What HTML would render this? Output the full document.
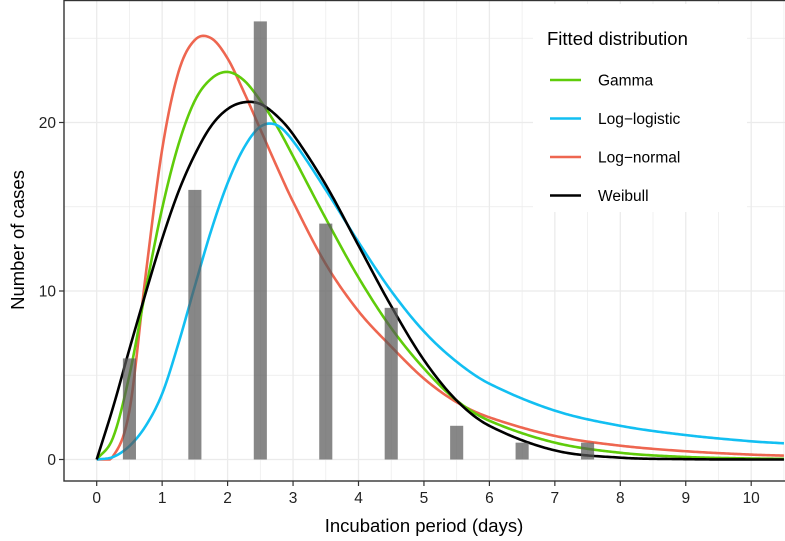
<!DOCTYPE html>
<html><head><meta charset="utf-8">
<style>
html,body{margin:0;padding:0;background:#fff;}
svg{display:block;font-family:"Liberation Sans",Arial,sans-serif;}
</style></head>
<body>
<svg id="chart" width="785" height="541" viewBox="0 0 785 541" xmlns="http://www.w3.org/2000/svg">
  <rect x="0" y="0" width="785" height="541" fill="#fff"/>
  <g id="grid"></g>
  <g id="curves"></g>
  <g id="bars"></g>
  <rect x="64" y="0.5" width="730" height="480.5" fill="none" stroke="#333" stroke-width="1.4"/>
  <g id="axes"></g>
  <text x="424" y="532" font-size="18.5" text-anchor="middle" fill="#000">Incubation period (days)</text>
  <text transform="translate(24,240) rotate(-90)" font-size="18.5" text-anchor="middle" fill="#000">Number of cases</text>
  <g id="legend">
    <rect x="533" y="4" width="214" height="208" fill="#fff"/>
    <text x="547" y="45" font-size="18.5" fill="#000">Fitted distribution</text>
  </g>
</svg>
<script>
const barDays = [0.5, 1.5, 2.5, 3.5, 4.5, 5.5, 6.5, 7.5];
const barCounts = [6, 16, 26, 14, 9, 2, 1, 1];
const curveX = [0, 0.25, 0.5, 0.75, 1, 1.25, 1.5, 1.75, 2, 2.25, 2.5, 2.75, 3, 3.5, 4, 4.5, 5, 5.5, 6, 7, 8, 9, 10, 10.5];
const gammaY = [0, 1.3, 5.0, 10.1, 14.9, 18.7, 21.3, 22.6, 23.0, 22.5, 21.3, 19.8, 18.0, 14.3, 10.8, 7.8, 5.4, 3.5, 2.3, 1.0, 0.4, 0.15, 0.06, 0.04];
const loglogY = [0, 0.15, 0.8, 2.0, 3.9, 6.9, 10.3, 13.6, 16.4, 18.5, 19.75, 19.85, 18.9, 16.0, 12.9, 10.0, 7.6, 5.8, 4.5, 2.9, 2.0, 1.45, 1.08, 0.96];
const lognormY = [0, 0.2, 2.9, 11.0, 18.4, 23.0, 24.9, 25.0, 23.8, 21.8, 19.6, 17.4, 15.3, 11.6, 8.8, 6.7, 4.8, 3.4, 2.5, 1.4, 0.82, 0.49, 0.29, 0.23];
const weibullY = [0, 3.1, 6.55, 9.9, 13.1, 15.9, 18.1, 19.8, 20.8, 21.2, 21.1, 20.4, 19.3, 16.3, 12.7, 9.1, 5.9, 3.5, 2.0, 0.54, 0.11, 0.02, 0, 0];
const seriesNames = ["Gamma", "Log\u2212logistic", "Log\u2212normal", "Weibull"];
const seriesColors = ["#5FCC0A", "#12BFF2", "#EE6650", "#000000"];
const xTicks = [0,1,2,3,4,5,6,7,8,9,10];
const yTicks = [0,10,20];

const NS = "http://www.w3.org/2000/svg";
const X0 = 96.7, XU = 65.45, Y0 = 459.5, YU = 16.85;
const sx = v => X0 + v * XU;
const sy = v => Y0 - v * YU;
function mk(tag, attrs, parent){const e=document.createElementNS(NS,tag);for(const k in attrs)e.setAttribute(k,attrs[k]);parent.appendChild(e);return e;}

const grid = document.getElementById('grid');
for(let v=-0.5; v<=11; v+=0.5){
  const major = Math.abs(v-Math.round(v))<1e-6;
  const l = mk('line',{x1:sx(v),x2:sx(v),y1:0,y2:481,stroke:'#ebebeb','stroke-width':major?1.3:0.7},grid);
  
  
}
for(let v=-5; v<=30; v+=5){
  const major = v%10===0;
  const l = mk('line',{x1:64,x2:785,y1:sy(v),y2:sy(v),stroke:'#ebebeb','stroke-width':major?1.3:0.7},grid);
  
  
}

// cubic Hermite with central-difference slopes (smooth peaks)
function hermite(xs, ys){
  const n = xs.length, m = new Array(n);
  m[0] = (ys[1]-ys[0])/(xs[1]-xs[0]);
  m[n-1] = (ys[n-1]-ys[n-2])/(xs[n-1]-xs[n-2]);
  for(let i=1;i<n-1;i++) m[i] = (ys[i+1]-ys[i-1])/(xs[i+1]-xs[i-1]);
  return function(x){
    let i=0; while(i<n-2 && x>xs[i+1]) i++;
    const h = xs[i+1]-xs[i];
    const t=(x-xs[i])/h, t2=t*t, t3=t2*t;
    return (2*t3-3*t2+1)*ys[i]+(t3-2*t2+t)*h*m[i]+(-2*t3+3*t2)*ys[i+1]+(t3-t2)*h*m[i+1];
  };
}
function pathFor(xs, ys){
  const f = hermite(xs, ys);
  const x1 = xs[xs.length-1];
  let d='';
  for(let k=0;k<=420;k++){
    const x = x1*k/420;
    d += (k?' L':'M')+sx(x).toFixed(2)+','+sy(Math.max(0,f(x))).toFixed(2);
  }
  return d;
}
const curves = document.getElementById('curves');
const allY = [gammaY, loglogY, lognormY, weibullY];
const curveNames = ['gamma-curve','log-logistic-curve','log-normal-curve','weibull-curve'];
[2,0,1,3].forEach(i=>{
  const el = mk('path',{d:pathFor(curveX, allY[i]),fill:'none',stroke:seriesColors[i],'stroke-width':2.6,'stroke-linejoin':'round'},curves);
  
  
});

const bars = document.getElementById('bars');
barDays.forEach((d,i)=>{
  const w = 0.2*XU;
  const r = mk('rect',{x:sx(d)-w/2,y:sy(barCounts[i]),width:w,height:sy(0)-sy(barCounts[i]),fill:'#595959','fill-opacity':0.72},bars);
  
  
});

const axes = document.getElementById('axes');
xTicks.forEach(v=>{
  const t = mk('line',{x1:sx(v),x2:sx(v),y1:481,y2:486,stroke:'#333','stroke-width':1.2},axes);
  
  
  const l = mk('text',{x:sx(v),y:503,'font-size':15.5,'text-anchor':'middle',fill:'#222'},axes);
  l.textContent = v;
  
  
});
yTicks.forEach(v=>{
  const t = mk('line',{x1:59,x2:64,y1:sy(v),y2:sy(v),stroke:'#333','stroke-width':1.2},axes);
  
  
  const l = mk('text',{x:56,y:sy(v)+5.5,'font-size':15.5,'text-anchor':'end',fill:'#222'},axes);
  l.textContent = v;
  
  
});

const legend = document.getElementById('legend');
seriesNames.forEach((n,i)=>{
  const y = 80 + i*38.5;
  const k = mk('line',{x1:550,x2:581,y1:y,y2:y,stroke:seriesColors[i],'stroke-width':2.6},legend);
  
  
  const t = mk('text',{x:598,y:y+5.5,'font-size':15.5,fill:'#000'},legend);
  t.textContent = n;
  
  
});
</script>
</body></html>
